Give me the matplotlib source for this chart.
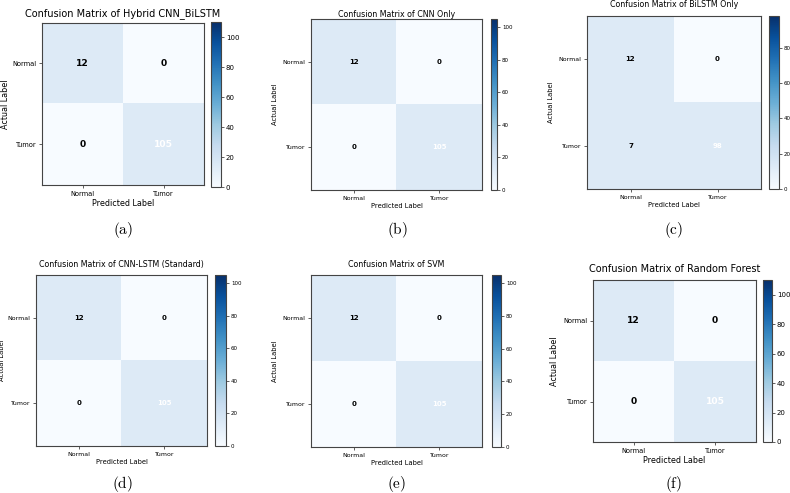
import numpy as np
import matplotlib
matplotlib.use("Agg")
import matplotlib.pyplot as plt
from matplotlib import colors, cm

plt.rcParams['mathtext.fontset'] = 'cm'

# ---------------- data ----------------
class_labels = ["Normal", "Tumor"]
titles = [
    "Confusion Matrix of Hybrid CNN_BiLSTM",
    "Confusion Matrix of CNN Only",
    "Confusion Matrix of BiLSTM Only",
    "Confusion Matrix of CNN-LSTM (Standard)",
    "Confusion Matrix of SVM",
    "Confusion Matrix of Random Forest",
]
captions = ["(a)", "(b)", "(c)", "(d)", "(e)", "(f)"]
cm_hybrid = [[12, 0], [0, 105]]
cm_cnn = [[12, 0], [0, 105]]
cm_bilstm = [[12, 0], [7, 98]]
cm_cnnlstm = [[12, 0], [0, 105]]
cm_svm = [[12, 0], [0, 105]]
cm_rf = [[12, 0], [0, 105]]
matrices = [cm_hybrid, cm_cnn, cm_bilstm, cm_cnnlstm, cm_svm, cm_rf]
colorbar_max = [110, 105, 98, 105, 105, 110]

# ---------------- layout (pixels) ----------------
W, H = 790, 493
fig = plt.figure(figsize=(W / 100, H / 100), dpi=100)

# (left, top, right, bottom) for the matrix and the colorbar
ax_px = [(42, 23, 204, 185), (311, 19, 482, 190), (587, 16, 761, 189),
         (36, 275, 207, 446), (311, 275, 482, 447), (593, 280, 756, 442)]
cb_px = [(211, 22, 221, 187), (491, 19, 497, 190), (769, 16, 779, 189),
         (215, 275, 226, 446), (492, 275, 501, 447), (763, 280, 772, 442)]
cap_px = [(123, 230), (397, 230), (674, 230), (122, 484), (397, 484), (674, 484)]

big = [True, False, False, False, False, True]
title_pad = [5, 1.2, 6.5, 6, 6, 6]
ylabel_pad = [1.5, 3, 3, 2, 3, 3]


def rect(p):
    l, t, r, b = p
    return [l / W, 1 - b / H, (r - l) / W, (b - t) / H]


# light cell colours: Blues restricted to its pale end, saturating early
cell_cmap = colors.LinearSegmentedColormap.from_list(
    "pale_blues", [cm.Blues(0.0), cm.Blues(0.13)])
edge = "#444444"

for i, mat in enumerate(matrices):
    data = np.array(mat)
    ax = fig.add_axes(rect(ax_px[i]))
    ax.imshow(data, cmap=cell_cmap, norm=colors.Normalize(0, 7, clip=True),
              aspect="auto", interpolation="nearest")
    if big[i]:
        fs_title, fs_lab, fs_tick, fs_num, fs_cb = 7.05, 5.8, 4.8, 6.6, 5.0
    else:
        fs_title, fs_lab, fs_tick, fs_num, fs_cb = 5.7, 4.9, 4.5, 5.0, 4.0
    ax.set_title(titles[i], fontsize=fs_title, pad=title_pad[i])
    ax.set_xticks(range(len(class_labels)))
    ax.set_yticks(range(len(class_labels)))
    ax.set_xticklabels(class_labels, fontsize=fs_tick)
    ax.set_yticklabels(class_labels, fontsize=fs_tick)
    ax.tick_params(length=2.5, width=0.6, pad=1.5, color=edge)
    ax.set_xlabel("Predicted Label", fontsize=fs_lab, labelpad=2)
    ax.set_ylabel("Actual Label", fontsize=fs_lab, labelpad=ylabel_pad[i])
    for s in ax.spines.values():
        s.set_color(edge)
        s.set_linewidth(0.8)
    thresh = colorbar_max[i] / 2
    for r in range(data.shape[0]):
        for c in range(data.shape[1]):
            v = data[r, c]
            ax.text(c, r, str(v), ha="center", va="center", fontsize=fs_num,
                    fontweight="bold", color="white" if v > thresh else "black")

    cax = fig.add_axes(rect(cb_px[i]))
    sm = cm.ScalarMappable(norm=colors.Normalize(0, colorbar_max[i]), cmap="Blues")
    cb = fig.colorbar(sm, cax=cax)
    cb.set_ticks(np.arange(0, colorbar_max[i] + 1, 20))
    cb.ax.tick_params(labelsize=fs_cb, length=2, width=0.6, pad=1.5, color=edge)
    cb.outline.set_edgecolor(edge)
    cb.outline.set_linewidth(0.8)

    x, y = cap_px[i]
    fig.text(x / W, 1 - y / H, r"$\mathrm{" + captions[i] + "}$",
             ha="center", va="center", fontsize=11)

fig.savefig("out.png", dpi=100)
